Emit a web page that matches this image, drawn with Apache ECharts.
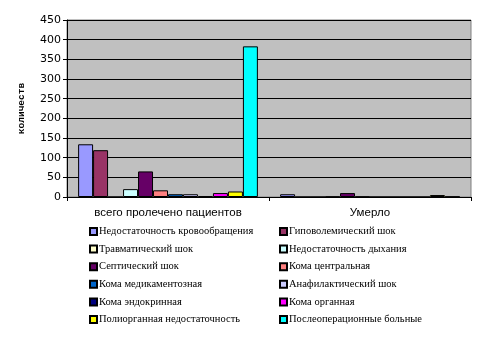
<!DOCTYPE html>
<html><head><meta charset="utf-8">
<script src="https://cdn.jsdelivr.net/npm/echarts@6/dist/echarts.min.js"></script>
<style>html,body{margin:0;padding:0;background:#fff}#c{width:483px;height:343px}</style>
</head><body><div id="c"></div>
<script>
const categories = ['всего пролечено пациентов', 'Умерло'];
const seriesNames = ['Недостаточность кровообращения','Гиповолемический шок','Травматический шок','Недостаточность дыхания','Септический шок','Кома центральная','Кома медикаментозная','Анафилактический шок','Кома эндокринная','Кома органная','Полиорганная недостаточность','Послеоперационные больные'];
const seriesColors = ['#9999FF','#993366','#FFFFCC','#CCFFFF','#660066','#FF8080','#0066CC','#CCCCFF','#000080','#FF00FF','#FFFF00','#00FFFF'];
const valNedKrov = [134, 7];
const valGipovol = [119, 0];
const valTravm = [0, 0];
const valNedDyh = [20, 1];
const valSeptic = [65, 10];
const valKomaCentr = [17, 1];
const valKomaMed = [7, 0];
const valAnafil = [7, 0];
const valKomaEndo = [2, 0];
const valKomaOrg = [10, 0];
const valPoliorg = [14, 5];
const valPosleop = [383, 1];
const seriesValues = [valNedKrov,valGipovol,valTravm,valNedDyh,valSeptic,valKomaCentr,valKomaMed,valAnafil,valKomaEndo,valKomaOrg,valPoliorg,valPosleop];
const yTicks = {min:0, max:450, interval:50};

const chart = echarts.init(document.getElementById('c'));
const legendText = {fontFamily:'Liberation Serif', fontSize:10.5, color:'#000', padding:[0,0,0,-3]};
chart.setOption({
  animation:false,
  backgroundColor:'#fff',
  grid:{left:67, right:12, top:20, bottom:146, show:true, backgroundColor:'#C0C0C0', borderColor:'#808080', borderWidth:1},
  legend:[
    {orient:'vertical', left:84, top:221, itemWidth:7, itemHeight:7, itemGap:6.6, icon:'rect', textStyle:legendText, data:seriesNames.filter((n,i)=>i%2===0)},
    {orient:'vertical', left:274, top:221, itemWidth:7, itemHeight:7, itemGap:6.6, icon:'rect', textStyle:legendText, data:seriesNames.filter((n,i)=>i%2===1)}
  ],
  xAxis:{type:'category', data:categories,
    axisLine:{lineStyle:{color:'#000'}}, axisTick:{show:true, length:4, lineStyle:{color:'#000'}},
    axisLabel:{fontFamily:'Liberation Sans', fontSize:11.5, color:'#000', margin:10}},
  yAxis:{type:'value', min:yTicks.min, max:yTicks.max, interval:yTicks.interval,
    name:'количеств', nameLocation:'middle', nameGap:40, nameRotate:90,
    nameTextStyle:{fontFamily:'Liberation Mono', fontSize:9.5, fontWeight:'bold', color:'#000'},
    axisLine:{show:true, lineStyle:{color:'#000'}}, axisTick:{show:true, length:4, lineStyle:{color:'#000'}},
    splitLine:{lineStyle:{color:'#000', width:1}},
    axisLabel:{fontFamily:'DejaVu Sans', fontSize:11, color:'#000', margin:6}},
  series: seriesNames.map((n,i)=>({
    name:n, type:'bar', data:seriesValues[i], barGap:'0%', barCategoryGap:'11%',
    itemStyle:{color:seriesColors[i], borderColor:'#000', borderWidth:1}
  }))
});
</script></body></html>
